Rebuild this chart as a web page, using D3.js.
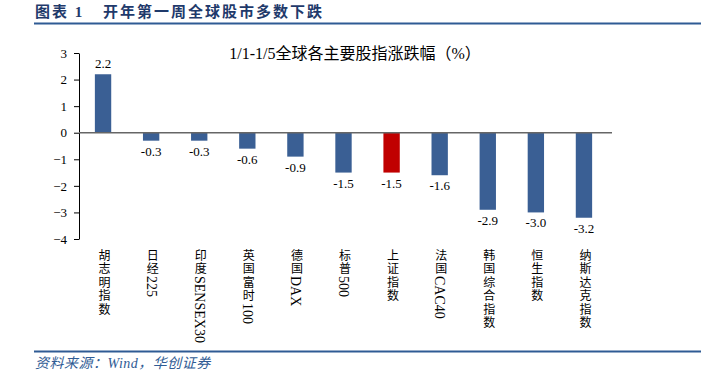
<!DOCTYPE html>
<html><head><meta charset="utf-8">
<script src="https://cdn.jsdelivr.net/npm/d3@7"></script>
<style>
body{margin:0;background:#fff;}
svg{display:block;font-family:"Liberation Serif","Times New Roman","Noto Sans CJK SC",serif;}
</style></head>
<body>
<svg id="c" width="701" height="383"></svg>
<script>
const categories = ["胡志明指数","日经225","印度SENSEX30","英国富时100","德国DAX","标普500","上证指数","法国CAC40","韩国综合指数","恒生指数","纳斯达克指数"];
const values = [2.2,-0.3,-0.3,-0.6,-0.9,-1.5,-1.5,-1.6,-2.9,-3.0,-3.2];
const highlight = ["上证指数"];
const yTicks = [3,2,1,0,-1,-2,-3,-4];
const figLabel = "图表 1";
const figTitle = "开年第一周全球股市多数下跌";
const chartTitle = "1/1-1/5全球各主要股指涨跌幅（%）";
const source = "资料来源：Wind，华创证券";

(function(){
const svg = d3.select("#c");
const mLeft = 79, mRight = 608, mTop = 53, mBottom = 239;
const x = d3.scaleBand().domain(categories).range([mLeft, mRight]).paddingInner(0.66).paddingOuter(0.33);
const y = d3.scaleLinear().domain([-4,3]).range([mBottom, mTop]);

svg.append("text").attr("x",35).attr("y",17).attr("font-size",15).attr("font-weight","bold")
  .attr("fill","#1f3a6b").attr("letter-spacing",2).attr("xml:space","preserve").text(figLabel);
svg.append("text").attr("x",103).attr("y",17).attr("font-size",15).attr("font-weight","bold")
  .attr("fill","#1f3a6b").attr("letter-spacing",2).text(figTitle);
svg.append("line").attr("x1",34).attr("x2",701).attr("y1",23.5).attr("y2",23.5).attr("stroke","#2f5b94").attr("stroke-width",2);

svg.append("text").attr("x",355).attr("y",59).attr("text-anchor","middle").attr("font-size",16).attr("fill","#000").text(chartTitle);

svg.selectAll("rect.bar").data(categories).enter().append("rect")
  .attr("x",d=>x(d)).attr("width",x.bandwidth())
  .attr("y",(d,i)=>y(Math.max(0,values[i])))
  .attr("height",(d,i)=>Math.abs(y(values[i])-y(0)))
  .attr("fill",d=>highlight.includes(d)?"#c00000":"#3a5f94");

svg.selectAll("text.val").data(categories).enter().append("text")
  .attr("x",d=>x(d)+x.bandwidth()/2)
  .attr("y",(d,i)=>values[i]>=0 ? y(values[i])-6 : y(values[i])+15)
  .attr("text-anchor","middle").attr("font-size",13).attr("fill","#000")
  .text((d,i)=>values[i].toFixed(1));

const yAxis = d3.axisLeft(y).tickValues(yTicks).tickSize(5).tickSizeOuter(0).tickFormat(d3.format("d"));
const ga = svg.append("g").attr("transform",`translate(${mLeft},0)`).call(yAxis);
ga.select(".domain").attr("stroke","#000");
ga.selectAll(".tick line").attr("stroke","#000");
ga.selectAll(".tick text").attr("font-size",13).attr("fill","#000").attr("font-family","'Liberation Serif',serif").attr("x",-12);

svg.append("line").attr("x1",mLeft).attr("x2",mRight+4).attr("y1",y(0)).attr("y2",y(0)).attr("stroke","#666").attr("stroke-width",1.5);

const runs = s => s.match(/[\u4e00-\u9fff]+|[^\u4e00-\u9fff]+/g);
const xl = svg.selectAll("text.xl").data(categories).enter().append("text")
  .attr("x",d=>x(d)+x.bandwidth()/2).attr("y",249)
  .attr("fill","#000")
  .style("writing-mode","vertical-rl").style("text-orientation","mixed");
xl.each(function(d){
  const t = d3.select(this);
  runs(d).forEach(r=>{
    const cjk = /[\u4e00-\u9fff]/.test(r);
    t.append("tspan").attr("font-size",cjk?12:14).attr("letter-spacing",cjk?1.5:0).text(r);
  });
});

svg.append("line").attr("x1",34).attr("x2",701).attr("y1",351.5).attr("y2",351.5).attr("stroke","#2f5b94").attr("stroke-width",2);
svg.append("text").attr("x",35).attr("y",368).attr("font-size",14).attr("font-style","italic").attr("fill","#2f5b94").attr("letter-spacing",0.5).text(source);
})();
</script>
</body></html>
